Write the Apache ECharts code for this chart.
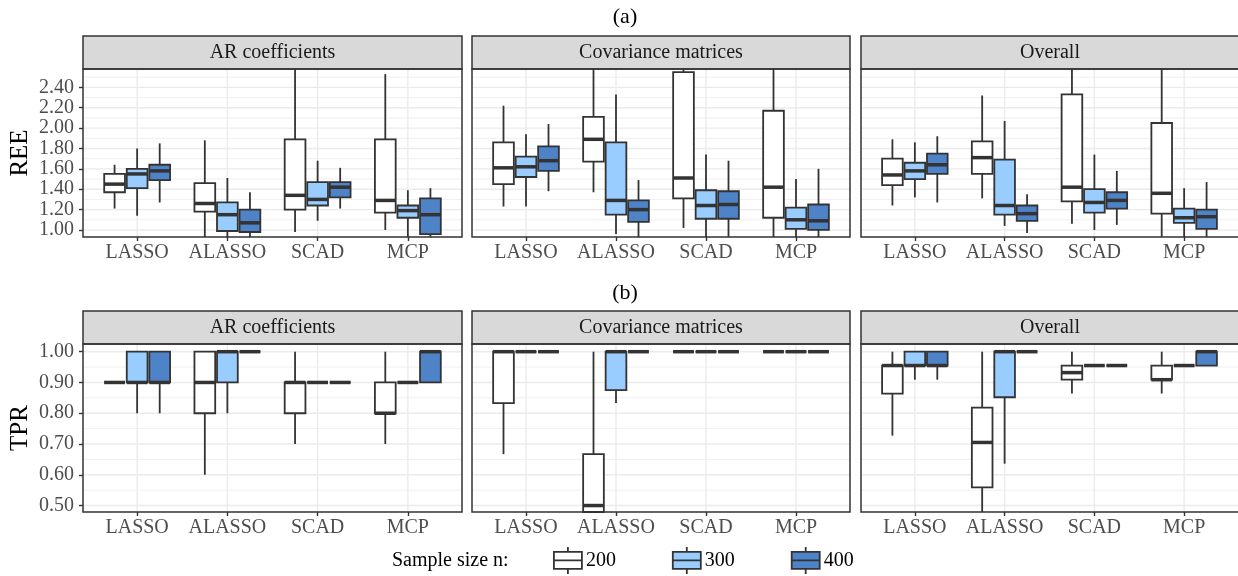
<!DOCTYPE html>
<html lang="en">
<head>
<meta charset="UTF-8">
<title>REE / TPR boxplots</title>
<style>
  html, body { margin: 0; padding: 0; background: #fff; }
  #main { width: 1238px; height: 576px; }
</style>
</head>
<body>
<div id="main"></div>
<script src="https://cdn.jsdelivr.net/npm/echarts@6/dist/echarts.min.js"></script>
<script>
var methods = ['LASSO', 'ALASSO', 'SCAD', 'MCP'];
var sampleSizes = ['200', '300', '400'];
var facets = ['AR coefficients', 'Covariance matrices', 'Overall'];
var reeTicks = [1.0, 1.2, 1.4, 1.6, 1.8, 2.0, 2.2, 2.4];
var reeMinor = [1.1, 1.3, 1.5, 1.7, 1.9, 2.1, 2.3, 2.5];
var tprTicks = [0.5, 0.6, 0.7, 0.8, 0.9, 1.0];
var tprMinor = [0.55, 0.65, 0.75, 0.85, 0.95];

// one row per method: [lower whisker, q1, median, q3, upper whisker]
var reeAr200 = [[1.21, 1.37, 1.45, 1.55, 1.64], [0.88, 1.18, 1.26, 1.46, 1.88], [0.98, 1.20, 1.34, 1.89, 2.70], [1.00, 1.17, 1.29, 1.89, 2.53]];
var reeAr300 = [[1.14, 1.41, 1.55, 1.60, 1.80], [0.88, 0.99, 1.15, 1.27, 1.51], [1.09, 1.24, 1.30, 1.47, 1.68], [0.88, 1.12, 1.19, 1.24, 1.39]];
var reeAr400 = [[1.27, 1.49, 1.58, 1.64, 1.85], [0.90, 0.98, 1.07, 1.20, 1.37], [1.21, 1.32, 1.42, 1.47, 1.61], [0.92, 0.96, 1.15, 1.31, 1.41]];
var reeCov200 = [[1.23, 1.45, 1.61, 1.86, 2.22], [1.37, 1.67, 1.89, 2.11, 2.70], [1.02, 1.31, 1.51, 2.55, 2.80], [0.85, 1.12, 1.42, 2.17, 2.80]];
var reeCov300 = [[1.23, 1.52, 1.62, 1.72, 1.94], [0.96, 1.15, 1.29, 1.86, 2.33], [0.88, 1.11, 1.24, 1.39, 1.74], [0.90, 1.01, 1.10, 1.22, 1.50]];
var reeCov400 = [[1.38, 1.58, 1.68, 1.82, 2.04], [0.90, 1.08, 1.20, 1.29, 1.49], [0.88, 1.11, 1.25, 1.38, 1.68], [0.90, 1.00, 1.09, 1.25, 1.60]];
var reeAll200 = [[1.24, 1.44, 1.54, 1.70, 1.89], [1.31, 1.55, 1.71, 1.87, 2.32], [1.06, 1.28, 1.42, 2.33, 2.75], [0.85, 1.16, 1.36, 2.05, 2.75]];
var reeAll300 = [[1.32, 1.50, 1.58, 1.66, 1.86], [1.04, 1.15, 1.24, 1.69, 2.07], [1.00, 1.17, 1.27, 1.40, 1.74], [0.90, 1.07, 1.12, 1.21, 1.41]];
var reeAll400 = [[1.27, 1.55, 1.64, 1.75, 1.92], [0.97, 1.09, 1.16, 1.24, 1.35], [1.05, 1.21, 1.29, 1.37, 1.58], [0.90, 1.01, 1.13, 1.20, 1.47]];
var tprAr200 = [[0.9, 0.9, 0.9, 0.9, 0.9], [0.6, 0.8, 0.9, 1.0, 1.0], [0.7, 0.8, 0.9, 0.9, 1.0], [0.7, 0.8, 0.8, 0.9, 1.0]];
var tprAr300 = [[0.8, 0.9, 0.9, 1.0, 1.0], [0.8, 0.9, 1.0, 1.0, 1.0], [0.9, 0.9, 0.9, 0.9, 0.9], [0.9, 0.9, 0.9, 0.9, 0.9]];
var tprAr400 = [[0.8, 0.9, 0.9, 1.0, 1.0], [1.0, 1.0, 1.0, 1.0, 1.0], [0.9, 0.9, 0.9, 0.9, 0.9], [0.9, 0.9, 1.0, 1.0, 1.0]];
var tprCov200 = [[0.667, 0.833, 1.0, 1.0, 1.0], [0.0, 0.333, 0.5, 0.667, 1.0], [1.0, 1.0, 1.0, 1.0, 1.0], [1.0, 1.0, 1.0, 1.0, 1.0]];
var tprCov300 = [[1.0, 1.0, 1.0, 1.0, 1.0], [0.833, 0.875, 1.0, 1.0, 1.0], [1.0, 1.0, 1.0, 1.0, 1.0], [1.0, 1.0, 1.0, 1.0, 1.0]];
var tprCov400 = [[1.0, 1.0, 1.0, 1.0, 1.0], [1.0, 1.0, 1.0, 1.0, 1.0], [1.0, 1.0, 1.0, 1.0, 1.0], [1.0, 1.0, 1.0, 1.0, 1.0]];
var tprAll200 = [[0.727, 0.864, 0.955, 0.955, 1.0], [0.40, 0.559, 0.705, 0.818, 1.0], [0.864, 0.909, 0.932, 0.955, 1.0], [0.864, 0.909, 0.909, 0.955, 1.0]];
var tprAll300 = [[0.909, 0.955, 0.955, 1.0, 1.0], [0.636, 0.852, 1.0, 1.0, 1.0], [0.955, 0.955, 0.955, 0.955, 0.955], [0.955, 0.955, 0.955, 0.955, 0.955]];
var tprAll400 = [[0.909, 0.955, 0.955, 1.0, 1.0], [1.0, 1.0, 1.0, 1.0, 1.0], [0.955, 0.955, 0.955, 0.955, 0.955], [0.955, 0.955, 1.0, 1.0, 1.0]];

var FONT = "'Liberation Serif', 'Times New Roman', serif";
var fills = ['#ffffff', '#99ccff', '#4f83c8'];
var dodge = [-0.25, 0, 0.25];
var boxWidth = 0.23;

var rows = [
    { name: 'REE', min: 0.931, max: 2.58, ticks: reeTicks, minor: reeMinor,
      data: [[reeAr200, reeAr300, reeAr400], [reeCov200, reeCov300, reeCov400], [reeAll200, reeAll300, reeAll400]] },
    { name: 'TPR', min: 0.479, max: 1.025, ticks: tprTicks, minor: tprMinor,
      data: [[tprAr200, tprAr300, tprAr400], [tprCov200, tprCov300, tprCov400], [tprAll200, tprAll300, tprAll400]] }
];

// panel layout
var colLeft = [83, 472, 861];
var colWidth = [379, 378, 378];
var rowTop = [69, 344];
var rowHeight = [168, 168];
var stripH = 33;

function renderBox(params, api) {
    var cs = params.coordSys;
    var x = api.value(0);
    var clampY = function (y) { return Math.max(cs.y, Math.min(cs.y + cs.height, y)); };
    var ys = [1, 2, 3, 4, 5].map(function (d) { return api.coord([x, api.value(d)])[1]; });
    var cx = api.coord([x, api.value(3)])[0];
    var hw = api.size([boxWidth, 0])[0] / 2;
    var yLo = clampY(ys[0]), yQ1 = clampY(ys[1]), yQ3 = clampY(ys[3]), yHi = clampY(ys[4]);
    var medIn = ys[2] >= cs.y && ys[2] <= cs.y + cs.height;
    var stroke = { stroke: '#333333', lineWidth: 1.8 };
    var children = [
        { type: 'line', shape: { x1: cx, y1: yHi, x2: cx, y2: yQ3 }, style: stroke },
        { type: 'line', shape: { x1: cx, y1: yQ1, x2: cx, y2: yLo }, style: stroke },
        { type: 'rect', shape: { x: cx - hw, y: yQ3, width: 2 * hw, height: yQ1 - yQ3 },
          style: { fill: api.visual('color'), stroke: '#333333', lineWidth: 1.8 } }
    ];
    if (medIn) {
        children.push({ type: 'line', shape: { x1: cx - hw, y1: ys[2], x2: cx + hw, y2: ys[2] },
                        style: { stroke: '#333333', lineWidth: 3.5 } });
    }
    return { type: 'group', children: children };
}

function renderGridLine(params, api) {
    var cs = params.coordSys;
    var dir = api.value(0), v = api.value(1), major = api.value(2);
    var style = { stroke: '#ebebeb', lineWidth: major ? 1.4 : 0.8 };
    if (dir === 0) {
        var y = api.coord([1, v])[1];
        return { type: 'line', shape: { x1: cs.x, y1: y, x2: cs.x + cs.width, y2: y }, style: style };
    }
    var x = api.coord([v, api.value(3)])[0];
    return { type: 'line', shape: { x1: x, y1: cs.y, x2: x, y2: cs.y + cs.height }, style: style };
}

var grids = [], xAxes = [], yAxes = [], series = [], graphics = [];

rows.forEach(function (row, r) {
    facets.forEach(function (facet, c) {
        var p = r * 3 + c;
        grids.push({ left: colLeft[c], top: rowTop[r], width: colWidth[c], height: rowHeight[r], show: false });
        xAxes.push({
            type: 'value', gridIndex: p, min: 0.4, max: 4.6,
            axisLine: { show: false },
            splitLine: { show: false },
            axisTick: { show: true, customValues: [1, 2, 3, 4], length: 4, lineStyle: { color: '#333333', width: 1.4 } },
            axisLabel: {
                customValues: [1, 2, 3, 4], margin: 6,
                formatter: function (v) { return methods[Math.round(v) - 1]; },
                color: '#4d4d4d', fontSize: 20, fontFamily: FONT
            }
        });
        yAxes.push({
            type: 'value', gridIndex: p, min: row.min, max: row.max,
            name: c === 0 ? row.name : '', nameLocation: 'middle', nameGap: 50,
            nameTextStyle: { fontSize: 25, color: '#000', fontFamily: FONT },
            axisLine: { show: false },
            splitLine: { show: false },
            axisTick: { show: c === 0, customValues: row.ticks, length: 4, lineStyle: { color: '#333333', width: 1.4 } },
            axisLabel: {
                show: c === 0, customValues: row.ticks, margin: 9,
                formatter: function (v) { return v.toFixed(2); },
                color: '#4d4d4d', fontSize: 20, fontFamily: FONT
            }
        });

        var lines = [];
        row.minor.forEach(function (v) { lines.push([0, v, 0, row.min]); });
        row.ticks.forEach(function (v) { lines.push([0, v, 1, row.min]); });
        [1, 2, 3, 4].forEach(function (v) { lines.push([1, v, 1, row.min]); });
        series.push({
            type: 'custom', name: 'grid' + p, xAxisIndex: p, yAxisIndex: p, z: 1, silent: true,
            renderItem: renderGridLine, data: lines
        });

        sampleSizes.forEach(function (n, k) {
            var stats = row.data[c][k];
            series.push({
                type: 'custom', name: n, xAxisIndex: p, yAxisIndex: p, z: 3,
                itemStyle: { color: fills[k], borderColor: '#333333', borderWidth: 1.8 },
                encode: { x: 0, y: [1, 2, 3, 4, 5] },
                renderItem: renderBox,
                data: methods.map(function (m, i) { return [i + 1 + dodge[k]].concat(stats[i]); })
            });
        });

        // strip header and panel border
        graphics.push({
            type: 'rect', z: 100,
            shape: { x: colLeft[c], y: rowTop[r] - stripH, width: colWidth[c], height: stripH },
            style: { fill: '#d9d9d9', stroke: '#333333', lineWidth: 1.5 }
        });
        graphics.push({
            type: 'text', z: 101,
            x: colLeft[c] + colWidth[c] / 2, y: rowTop[r] - stripH / 2,
            style: { text: facet, align: 'center', verticalAlign: 'middle', fontSize: 20, fontFamily: FONT, fill: '#1a1a1a' }
        });
        graphics.push({
            type: 'rect', z: 100,
            shape: { x: colLeft[c], y: rowTop[r], width: colWidth[c], height: rowHeight[r] },
            style: { fill: 'none', stroke: '#333333', lineWidth: 1.5 }
        });
    });
});

graphics.push({ type: 'text', x: 625, y: 17, style: { text: '(a)', align: 'center', verticalAlign: 'middle', fontSize: 22, fontFamily: FONT, fill: '#000' } });
graphics.push({ type: 'text', x: 625, y: 293, style: { text: '(b)', align: 'center', verticalAlign: 'middle', fontSize: 22, fontFamily: FONT, fill: '#000' } });
graphics.push({ type: 'text', x: 392, y: 561, style: { text: 'Sample size n:', align: 'left', verticalAlign: 'middle', fontSize: 20, fontFamily: FONT, fill: '#000' } });

var myChart = echarts.init(document.getElementById('main'));
myChart.setOption({
    animation: false,
    backgroundColor: '#ffffff',
    grid: grids,
    xAxis: xAxes,
    yAxis: yAxes,
    legend: {
        data: sampleSizes, left: 553, top: 546, padding: 0,
        itemWidth: 28, itemHeight: 27, itemGap: 56,
        selectedMode: false,
        icon: 'path://M14,0V5M0,5H28V22H0ZM0,13.5H28M14,22V27',
        itemStyle: { borderColor: '#333333', borderWidth: 1.8 },
        textStyle: { fontSize: 20, color: '#000', fontFamily: FONT, padding: [0, 0, 0, -1] }
    },
    graphic: graphics,
    series: series
});
</script>
</body>
</html>
